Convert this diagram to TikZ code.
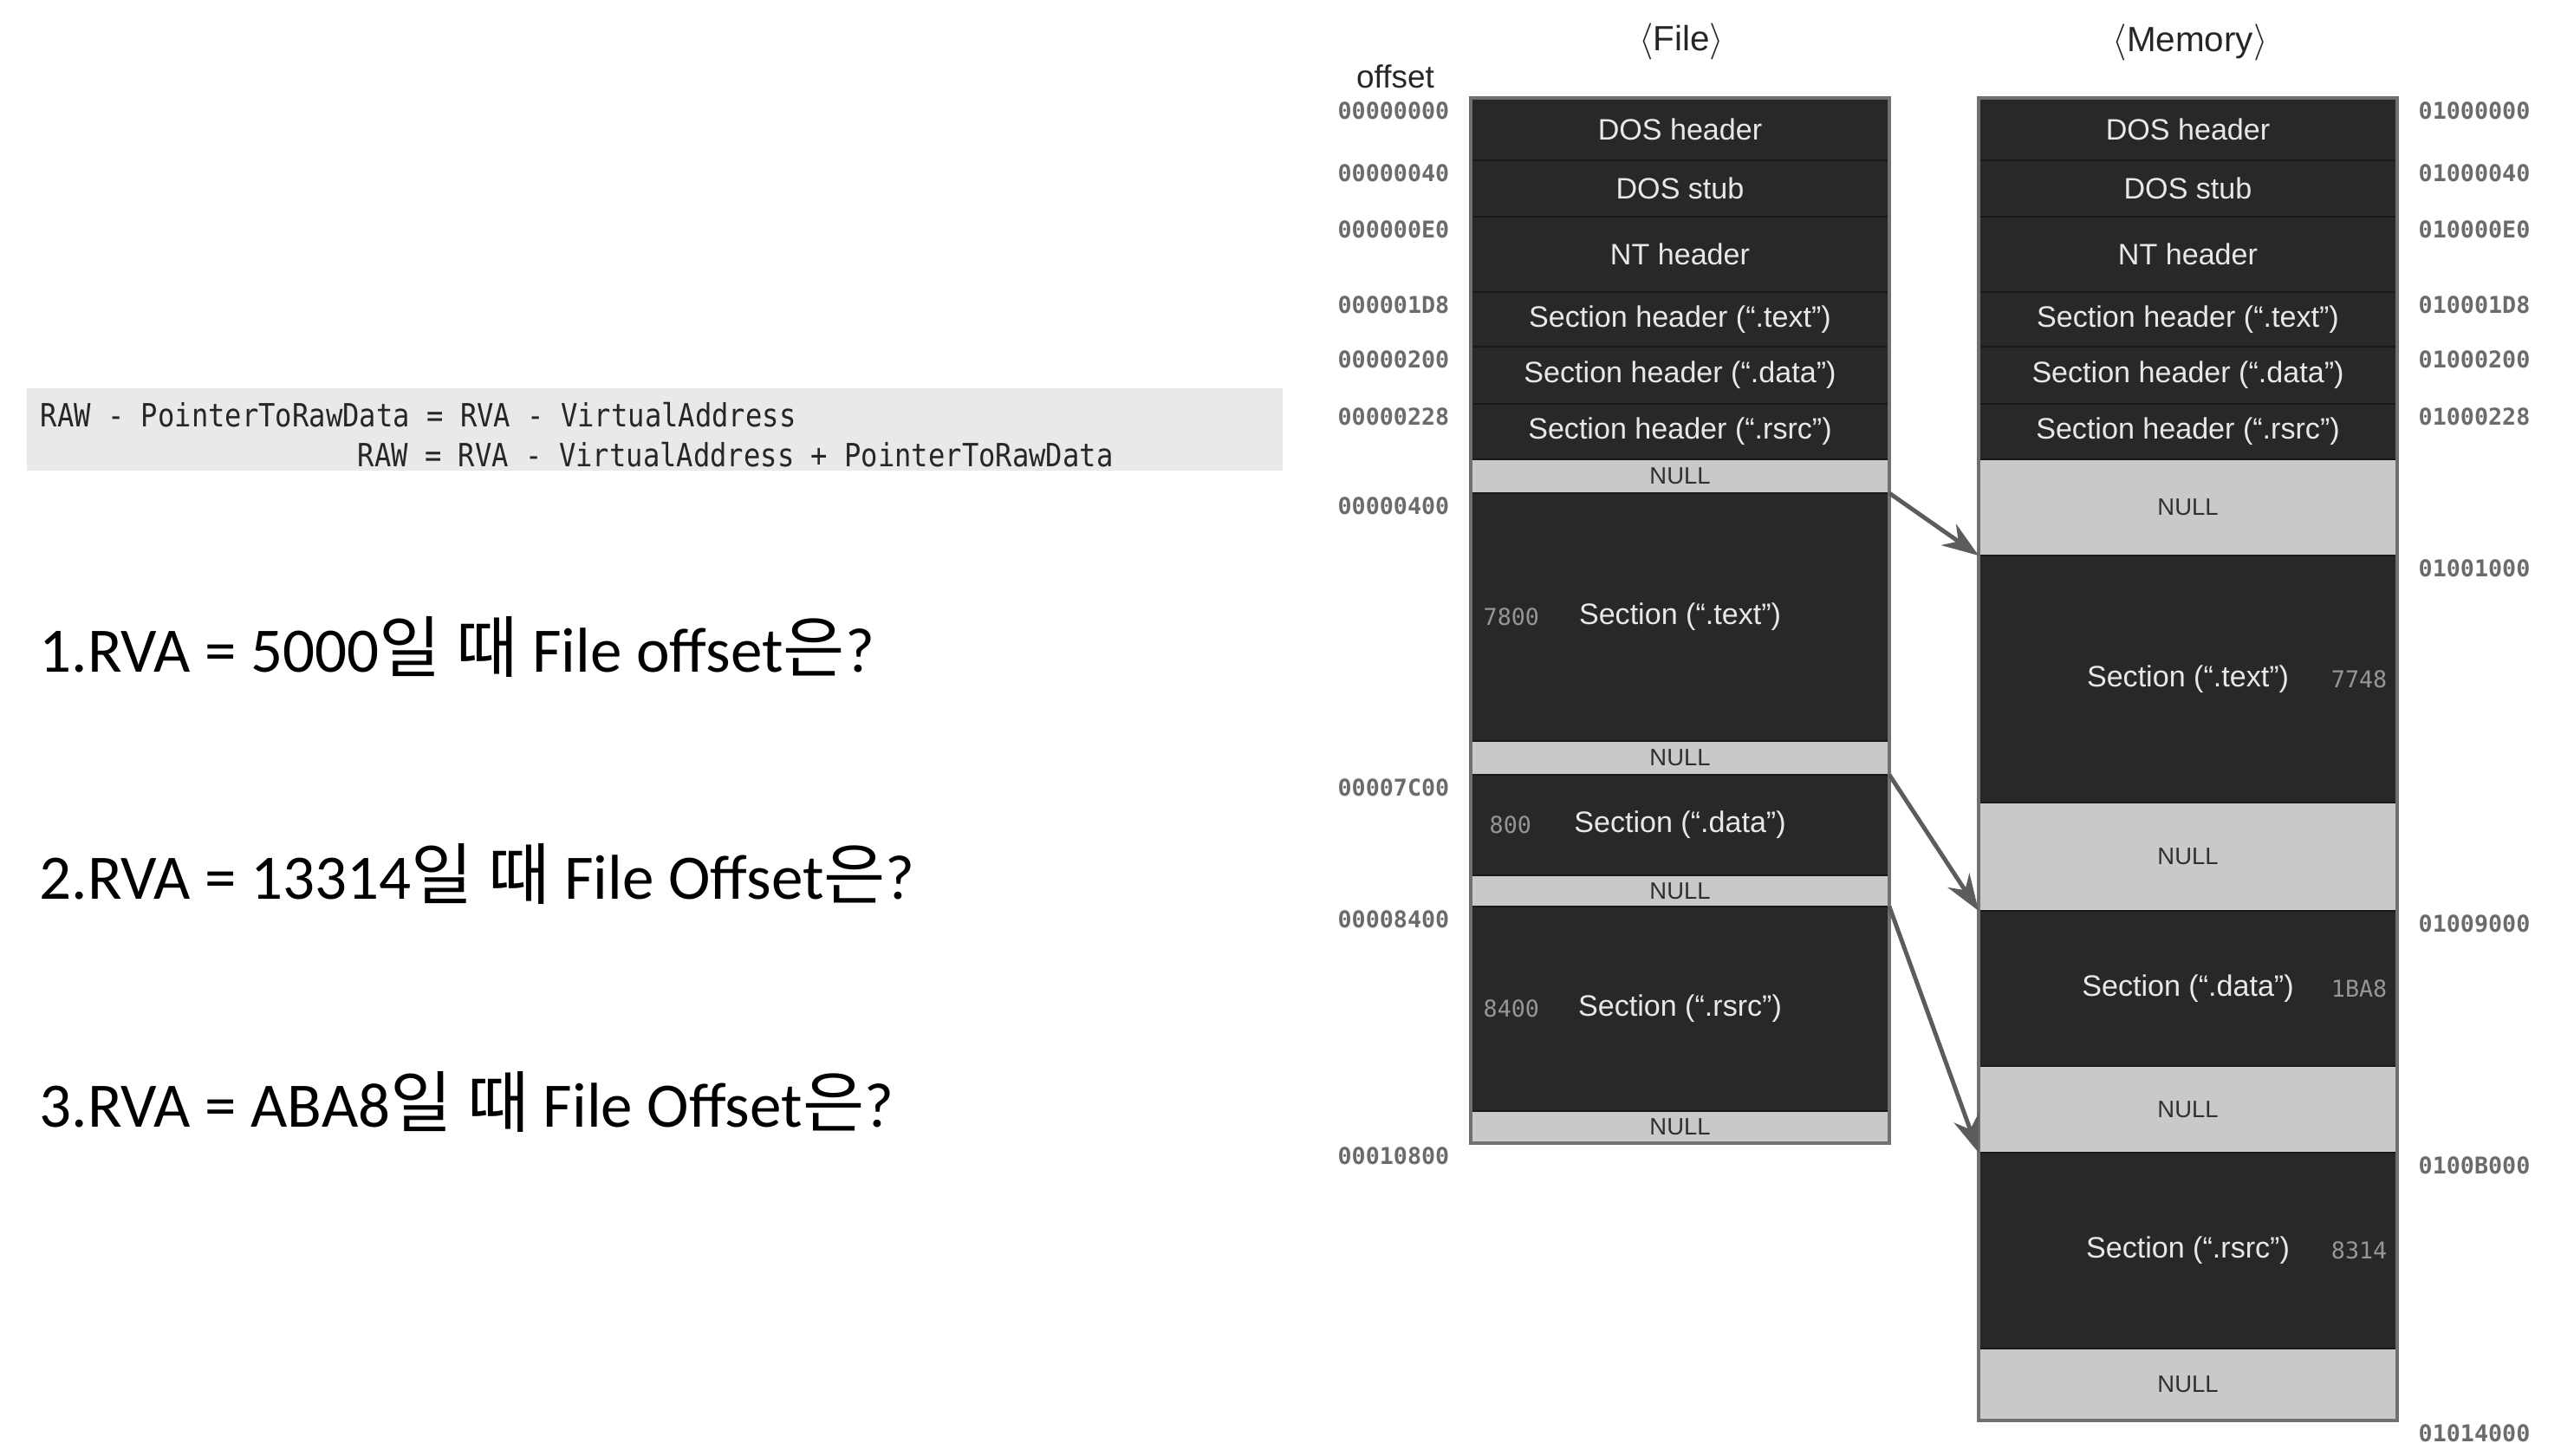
\documentclass[tikz,border=0pt]{standalone}
\usepackage{fontspec}
\setmainfont{Liberation Sans}
\newfontfamily\krfont{Noto Sans CJK KR}[Scale=1.06]
\newfontfamily\qfont{Carlito}
\newfontfamily\addrfont{DejaVu Sans Mono}
\newfontfamily\rawfont{DejaVu Sans Mono}[FakeStretch=0.872]
\usetikzlibrary{arrows.meta,positioning,calc}
\definecolor{celldark}{RGB}{40,40,40}
\definecolor{celltext}{RGB}{232,232,232}
\definecolor{nullgray}{RGB}{201,201,201}
\definecolor{nulltext}{RGB}{48,48,48}
\definecolor{addrgray}{RGB}{107,107,107}
\definecolor{sizegray}{RGB}{150,150,150}
\definecolor{arrowgray}{RGB}{92,92,92}
\definecolor{boxedge}{RGB}{112,112,112}
\definecolor{bandgray}{RGB}{233,233,233}
\definecolor{rawtext}{RGB}{38,38,38}

\begin{document}
\begin{tikzpicture}[
  x=1cm,y=1cm,
  cell/.style={draw=black!90,line width=0.8pt,fill=celldark,text=celltext,
    minimum width=4.83cm,inner sep=0pt,outer sep=0pt,
    font=\fontsize{9.7}{11}\selectfont},
  nullcell/.style={cell,fill=nullgray,text=nulltext,font=\fontsize{7.8}{9}\selectfont},
  columnedge/.style={draw=boxedge,line width=0.9pt},
  addr/.style={font=\addrfont\bfseries\fontsize{7.6}{9}\selectfont,text=addrgray,inner sep=0pt},
  sizenum/.style={font=\addrfont\fontsize{7.6}{9}\selectfont,text=sizegray,inner sep=0pt},
  coltitle/.style={font=\fontsize{11.5}{13}\selectfont,text=black!85,inner sep=0pt},
  maparrow/.style={-{Stealth[length=12pt,width=8.5pt]},line width=1.4pt,draw=arrowgray},
  rawband/.style={fill=bandgray,draw=none,minimum width=14.49cm,minimum height=0.95cm,inner sep=0pt},
  rawline/.style={font=\rawfont\fontsize{10.5}{13}\selectfont,text=rawtext,inner sep=0pt,anchor=base west},
  question/.style={font=\qfont\fontsize{20.8}{25}\selectfont,inner sep=0pt,anchor=base west}
]
\useasboundingbox (0,0) rectangle (29.55,-16.80);

% RAW / RVA formula
\node[rawband] (rawbox) at (7.555,-4.955) {};
\node[rawline] (rawfirst) at (0.46,-4.92) {RAW - PointerToRawData = RVA - VirtualAddress};
\node[rawline] (rawsecond) at (4.12,-5.38) {RAW = RVA - VirtualAddress + PointerToRawData};

% Questions
\node[question] (q1) at (0.45,-7.75) {1.RVA = 5000{\krfont 일 때} File offset{\krfont 은}?};
\node[question] (q2) at (0.45,-10.37) {2.RVA = 13314{\krfont 일 때} File Offset{\krfont 은}?};
\node[question] (q3) at (0.45,-13.00) {3.RVA = ABA8{\krfont 일 때} File Offset{\krfont 은}?};

% File image
\node[coltitle] (filetitle) at (19.40,-0.48) {$\langle$File$\rangle$};
\node[coltitle,font=\fontsize{10.5}{12}\selectfont] (offsethead) at (16.10,-0.885) {offset};
\node[cell,anchor=north west,minimum height=0.72cm] (fdos) at (16.97,-1.13) {DOS header};
\node[cell,minimum height=0.65cm,below=0pt of fdos] (fstub) {DOS stub};
\node[cell,minimum height=0.87cm,below=0pt of fstub] (fnt) {NT header};
\node[cell,minimum height=0.63cm,below=0pt of fnt] (fshtext) {Section header (“.text”)};
\node[cell,minimum height=0.66cm,below=0pt of fshtext] (fshdata) {Section header (“.data”)};
\node[cell,minimum height=0.64cm,below=0pt of fshdata] (fshrsrc) {Section header (“.rsrc”)};
\node[nullcell,minimum height=0.39cm,below=0pt of fshrsrc] (fnull1) {NULL};
\node[cell,minimum height=2.86cm,below=0pt of fnull1] (ftext) {Section (“.text”)};
\node[nullcell,minimum height=0.39cm,below=0pt of ftext] (fnull2) {NULL};
\node[cell,minimum height=1.16cm,below=0pt of fnull2] (fdata) {Section (“.data”)};
\node[nullcell,minimum height=0.36cm,below=0pt of fdata] (fnull3) {NULL};
\node[cell,minimum height=2.36cm,below=0pt of fnull3] (frsrc) {Section (“.rsrc”)};
\node[nullcell,minimum height=0.37cm,below=0pt of frsrc] (fnull4) {NULL};
\draw[columnedge] (fdos.north west) rectangle (fnull4.south east);

\node[sizenum,right=0.14cm of ftext.west] (ftextsize) {7800};
\node[sizenum,right=0.21cm of fdata.west] (fdatasize) {800};
\node[sizenum,right=0.14cm of frsrc.west] (frsrcsize) {8400};

\node[addr,below left=0.04cm and 0.24cm of fdos.north west] (foff0) {00000000};
\node[addr,below left=0.04cm and 0.24cm of fstub.north west] (foff1) {00000040};
\node[addr,below left=0.04cm and 0.24cm of fnt.north west] (foff2) {000000E0};
\node[addr,below left=0.04cm and 0.24cm of fshtext.north west] (foff3) {000001D8};
\node[addr,below left=0.04cm and 0.24cm of fshdata.north west] (foff4) {00000200};
\node[addr,below left=0.04cm and 0.24cm of fshrsrc.north west] (foff5) {00000228};
\node[addr,below left=0.04cm and 0.24cm of ftext.north west] (foff6) {00000400};
\node[addr,below left=0.04cm and 0.24cm of fdata.north west] (foff7) {00007C00};
\node[addr,below left=0.04cm and 0.24cm of frsrc.north west] (foff8) {00008400};
\node[addr,below left=0.04cm and 0.24cm of fnull4.south west] (foff9) {00010800};

% Memory image
\node[coltitle] (memtitle) at (25.27,-0.49) {$\langle$Memory$\rangle$};
\node[cell,anchor=north west,minimum height=0.72cm] (mdos) at (22.83,-1.13) {DOS header};
\node[cell,minimum height=0.65cm,below=0pt of mdos] (mstub) {DOS stub};
\node[cell,minimum height=0.87cm,below=0pt of mstub] (mnt) {NT header};
\node[cell,minimum height=0.63cm,below=0pt of mnt] (mshtext) {Section header (“.text”)};
\node[cell,minimum height=0.66cm,below=0pt of mshtext] (mshdata) {Section header (“.data”)};
\node[cell,minimum height=0.64cm,below=0pt of mshdata] (mshrsrc) {Section header (“.rsrc”)};
\node[nullcell,minimum height=1.11cm,below=0pt of mshrsrc] (mnull1) {NULL};
\node[cell,minimum height=2.85cm,below=0pt of mnull1] (mtext) {Section (“.text”)};
\node[nullcell,minimum height=1.25cm,below=0pt of mtext] (mnull2) {NULL};
\node[cell,minimum height=1.79cm,below=0pt of mnull2] (mdata) {Section (“.data”)};
\node[nullcell,minimum height=1.00cm,below=0pt of mdata] (mnull3) {NULL};
\node[cell,minimum height=2.26cm,below=0pt of mnull3] (mrsrc) {Section (“.rsrc”)};
\node[nullcell,minimum height=0.83cm,below=0pt of mrsrc] (mnull4) {NULL};
\draw[columnedge] (mdos.north west) rectangle (mnull4.south east);

\node[sizenum,left=0.11cm of mtext.east] (mtextsize) {7748};
\node[sizenum,left=0.11cm of mdata.east] (mdatasize) {1BA8};
\node[sizenum,left=0.11cm of mrsrc.east] (mrsrcsize) {8314};

\node[addr,below right=0.04cm and 0.24cm of mdos.north east] (moff0) {01000000};
\node[addr,below right=0.04cm and 0.24cm of mstub.north east] (moff1) {01000040};
\node[addr,below right=0.04cm and 0.24cm of mnt.north east] (moff2) {010000E0};
\node[addr,below right=0.04cm and 0.24cm of mshtext.north east] (moff3) {010001D8};
\node[addr,below right=0.04cm and 0.24cm of mshdata.north east] (moff4) {01000200};
\node[addr,below right=0.04cm and 0.24cm of mshrsrc.north east] (moff5) {01000228};
\node[addr,below right=0.04cm and 0.24cm of mtext.north east] (moff6) {01001000};
\node[addr,below right=0.04cm and 0.24cm of mdata.north east] (moff7) {01009000};
\node[addr,below right=0.04cm and 0.24cm of mrsrc.north east] (moff8) {0100B000};
\node[addr,below right=0.04cm and 0.24cm of mnull4.south east] (moff9) {01014000};

% Section mapping
\draw[maparrow] (ftext.north east) -- (mtext.north west);
\draw[maparrow] (fdata.north east) -- (mdata.north west);
\draw[maparrow] (frsrc.north east) -- (mrsrc.north west);
\end{tikzpicture}
\end{document}
